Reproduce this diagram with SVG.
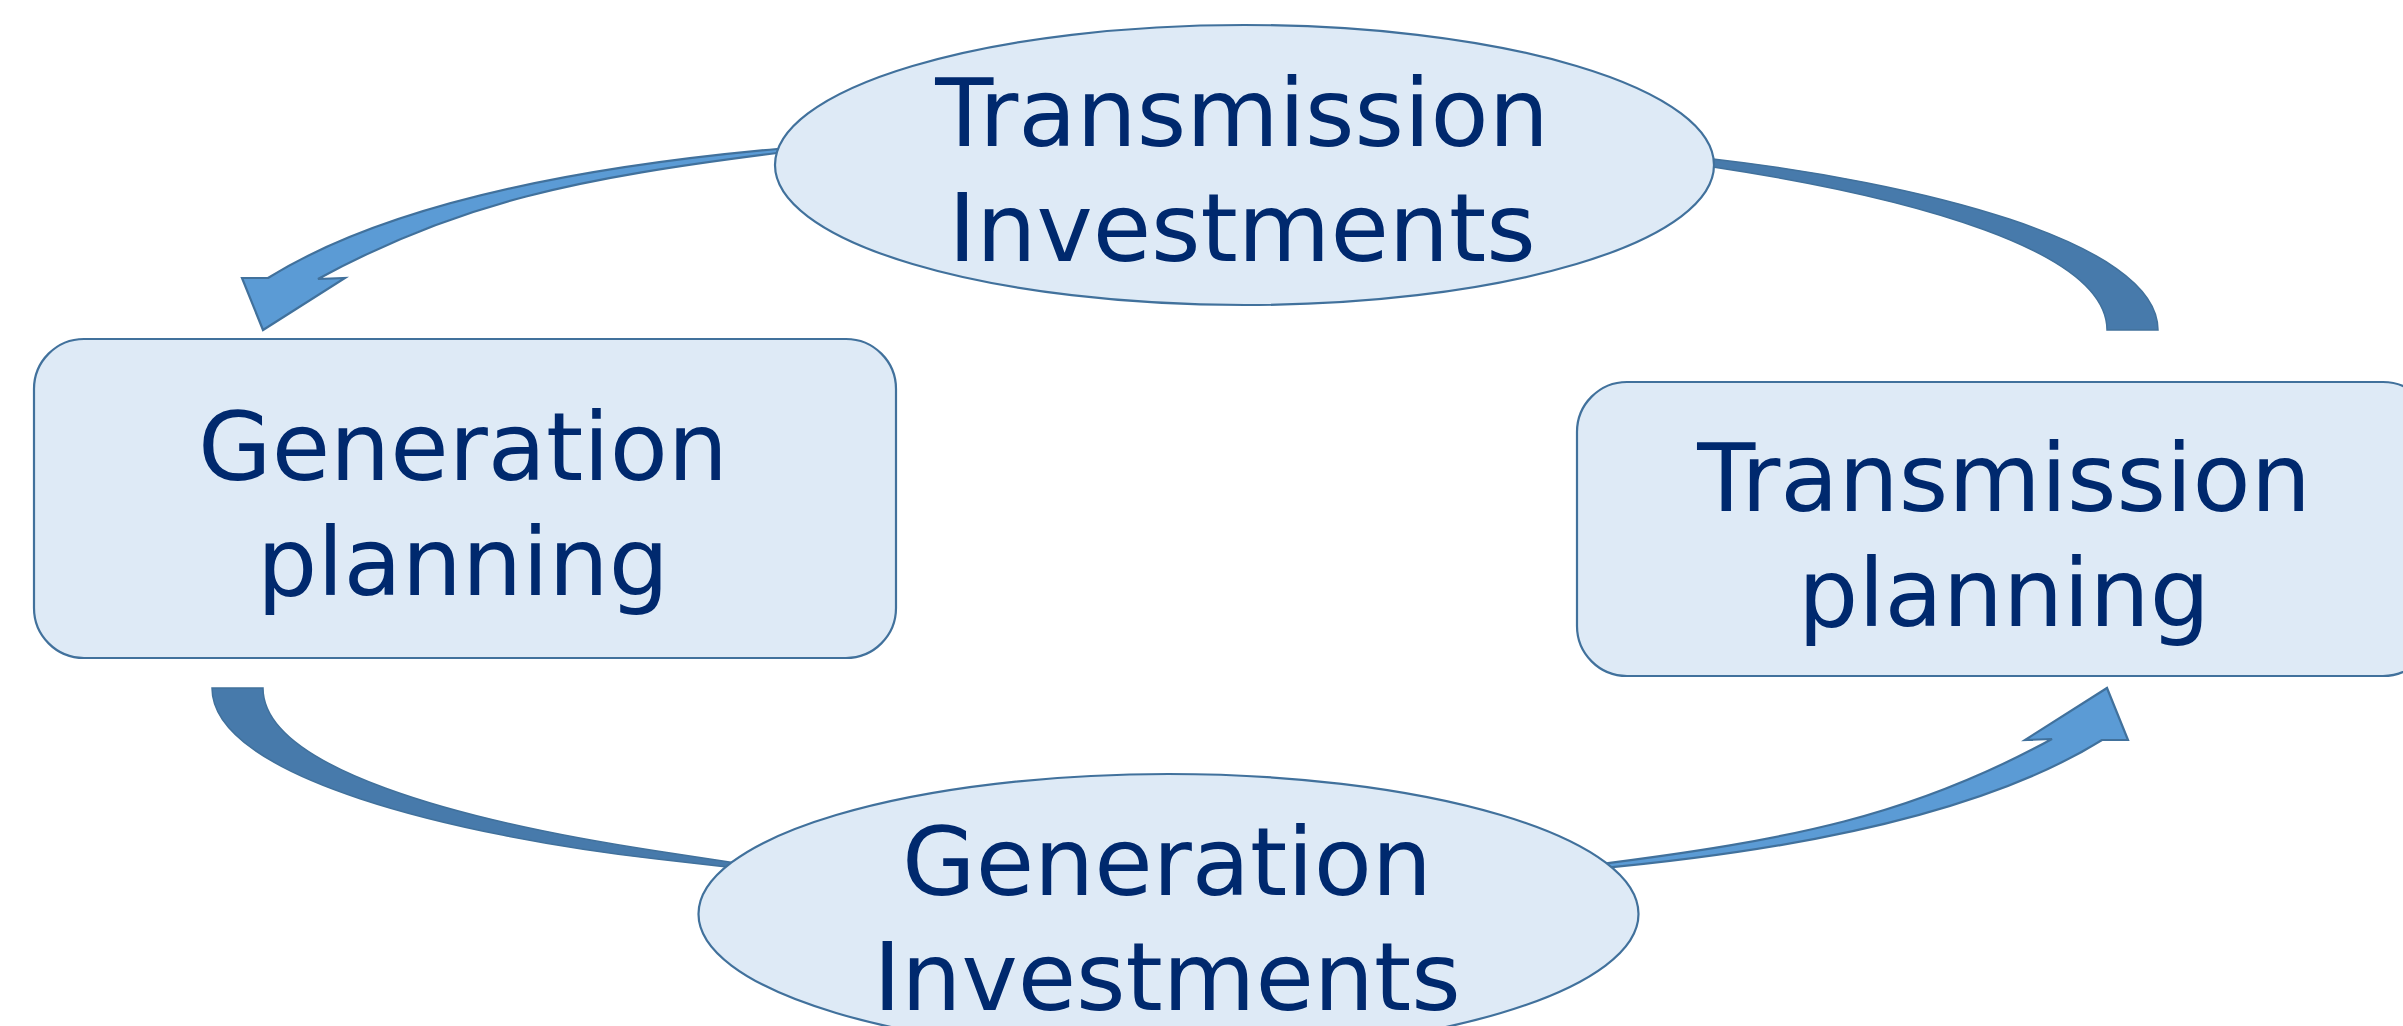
<svg xmlns="http://www.w3.org/2000/svg" width="2403" height="1026" viewBox="0 0 2403 1026">
  <style>
    .node { fill: #DEEAF6; stroke: #41719C; stroke-width: 2.2; }
    .label { font-family: "DejaVu Sans", "Liberation Sans", sans-serif; font-size: 95px; fill: #00296E; text-anchor: middle; }
    .arrow-front { fill: #5B9BD5; stroke: #41719C; stroke-width: 2.2; stroke-linejoin: miter; }
    .arrow-back { fill: #477AAB; stroke: #41719C; stroke-width: 1.5; stroke-linejoin: miter; }
  </style>
  <defs>
    <!-- curved arrow halves: head part and tail part; the shaft ends run on under the ellipses -->
    <path id="headArc" d="M263,330 L242,278 L268,278 C387,204 578,167 777,149 L900,138 L900,142 L777,153 C579,178 459,202 318,279 L345,278 Z"/>
    <path id="tailArc" d="M1594,145.3 L1713,159 C1911.6,181.8 2158,240 2158,330 L2107,330 C2107,250 1911,197 1713,167 L1594,149 Z"/>
  </defs>
  <rect width="2403" height="1026" fill="#FFFFFF"/>

  <g id="connectors">
    <!-- Transmission Investments -> Generation planning -->
    <use href="#headArc" class="arrow-front"/>
    <!-- Transmission planning -> Transmission Investments -->
    <use href="#tailArc" class="arrow-back"/>
    <!-- Generation planning -> Generation Investments -->
    <use href="#tailArc" class="arrow-back" transform="rotate(180 1185 509)"/>
    <!-- Generation Investments -> Transmission planning -->
    <use href="#headArc" class="arrow-front" transform="rotate(180 1185 509)"/>
  </g>

  <g id="transmission-investments">
    <ellipse class="node" cx="1244.5" cy="165" rx="469.5" ry="140"/>
    <text class="label" x="1242" y="146">Transmission</text>
    <text class="label" x="1242" y="261">Investments</text>
  </g>

  <g id="generation-planning">
    <rect class="node" x="34" y="339" width="862" height="319" rx="50" ry="50"/>
    <text class="label" x="463" y="480">Generation</text>
    <text class="label" x="463" y="595">planning</text>
  </g>

  <g id="transmission-planning">
    <rect class="node" x="1577" y="382" width="856" height="294" rx="50" ry="50"/>
    <text class="label" x="2004" y="511">Transmission</text>
    <text class="label" x="2004" y="626">planning</text>
  </g>

  <g id="generation-investments">
    <ellipse class="node" cx="1168.5" cy="914" rx="470" ry="140"/>
    <text class="label" x="1167" y="895">Generation</text>
    <text class="label" x="1167" y="1010">Investments</text>
  </g>
</svg>
